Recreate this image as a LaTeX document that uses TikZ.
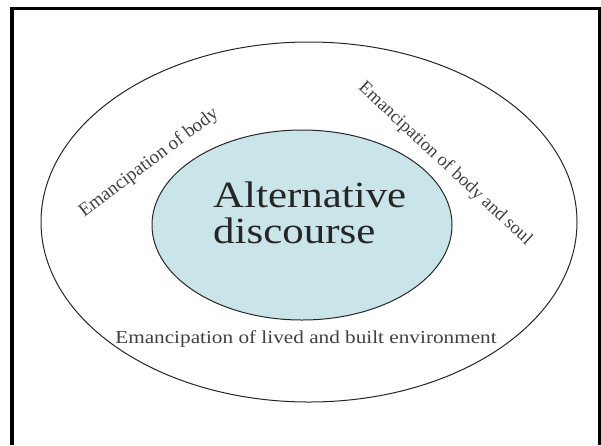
\documentclass[tikz,border=0pt]{standalone}
\usepackage{fontspec}
\setmainfont{Liberation Serif}[FakeStretch=1.16]
\newfontfamily\slantlabel{Liberation Serif}
\usetikzlibrary{shapes.geometric}
\definecolor{discfill}{RGB}{202,229,233}
\tikzset{
  ring/.style={ellipse, draw=black!85, line width=1pt, inner sep=0pt},
  emlabel/.style={text=black!75, font=\fontsize{18.3}{18}\selectfont, inner sep=0pt}
}
\begin{document}
\begin{tikzpicture}[x=1pt,y=-1pt]
  \useasboundingbox (0,0) rectangle (601,445);
  \draw[line width=3.5pt] (12,445) -- (12,8.5) -- (599.5,8.5) -- (599.5,445);
  \node[ring, minimum width=536pt, minimum height=360pt] (outer) at (309,222) {};
  \node[ring, fill=discfill, minimum width=300pt, minimum height=190pt] (inner) at (302,225) {};
  \node[anchor=base west, align=left, inner sep=0pt, text=black!85,
    font=\fontsize{37}{36.5}\selectfont] (alt) at (213,243.5) {Alternative\\discourse};
  \node[emlabel, font=\slantlabel\fontsize{19}{19}\selectfont, rotate=37] (body) at (149,163) {Emancipation of body};
  \node[emlabel, font=\slantlabel\fontsize{18.4}{18}\selectfont, rotate=-43] (soul) at (445,164) {Emancipation of body and soul};
  \node[emlabel, anchor=base] (env) at (306,343) {Emancipation of lived and built environment};
\end{tikzpicture}
\end{document}
